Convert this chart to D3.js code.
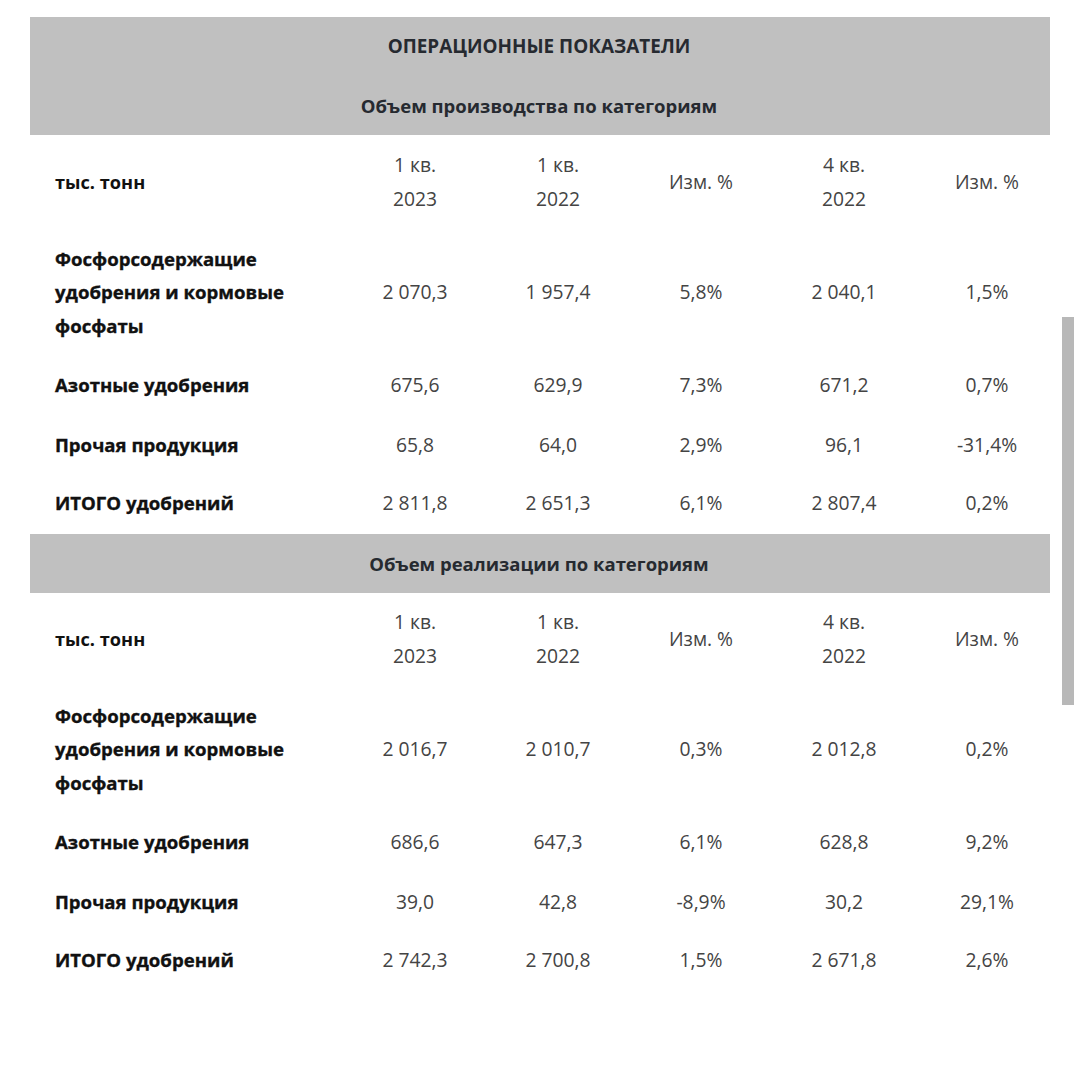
<!DOCTYPE html>
<html><head><meta charset="utf-8">
<script src="https://cdn.jsdelivr.net/npm/d3@7"></script>
<style>html,body{margin:0;padding:0;background:#fff;}svg{display:block;}</style>
</head><body>
<svg id="c" width="1080" height="1080"></svg>
<script>
const title = "ОПЕРАЦИОННЫЕ ПОКАЗАТЕЛИ";
const sectionTitles = ["Объем производства по категориям", "Объем реализации по категориям"];
const unitLabel = "тыс. тонн";
const columnHeaders = [["1 кв.", "2023"], ["1 кв.", "2022"], ["Изм. %"], ["4 кв.", "2022"], ["Изм. %"]];
const rowLabels = [["Фосфорсодержащие", "удобрения и кормовые", "фосфаты"], ["Азотные удобрения"], ["Прочая продукция"], ["ИТОГО удобрений"]];
const productionValues = [
  ["2 070,3", "1 957,4", "5,8%", "2 040,1", "1,5%"],
  ["675,6", "629,9", "7,3%", "671,2", "0,7%"],
  ["65,8", "64,0", "2,9%", "96,1", "-31,4%"],
  ["2 811,8", "2 651,3", "6,1%", "2 807,4", "0,2%"]
];
const salesValues = [
  ["2 016,7", "2 010,7", "0,3%", "2 012,8", "0,2%"],
  ["686,6", "647,3", "6,1%", "628,8", "9,2%"],
  ["39,0", "42,8", "-8,9%", "30,2", "29,1%"],
  ["2 742,3", "2 700,8", "1,5%", "2 671,8", "2,6%"]
];

const svg = d3.select("#c");
const grey = "#c0c0c0";
const font = "'Open Sans', sans-serif";
const x = d3.scalePoint().domain(d3.range(columnHeaders.length)).range([415, 987]);
const labelX = 55;
const lineH = 33.5;
const valSize = 19.3;
const labSize = 18.6;

// scrollbar
svg.append("rect").attr("x", 1062).attr("y", 317).attr("width", 12).attr("height", 388).attr("fill", "#b8b8b8");

function block(top, bandTop, bandH, showTitle, secTitle, values) {
  svg.append("rect").attr("x", 30).attr("y", bandTop).attr("width", 1020).attr("height", bandH).attr("fill", grey);
  if (showTitle) {
    svg.append("text").attr("x", 539).attr("y", bandTop + 36).attr("text-anchor", "middle")
      .attr("font-family", font).attr("font-weight", 700).attr("font-size", 18.9).attr("fill", "#262a30").text(title);
  }
  svg.append("text").attr("x", 539).attr("y", bandTop + bandH - 22).attr("text-anchor", "middle")
    .attr("font-family", font).attr("font-weight", 700).attr("font-size", 18.5).attr("fill", "#262a30").text(secTitle);

  const hY = top;
  svg.append("text").attr("x", labelX).attr("y", hY + 6).attr("font-family", font).attr("font-weight", 700)
    .attr("font-size", 18.2).attr("fill", "#111").text(unitLabel);
  columnHeaders.forEach((h, i) => {
    const t = svg.append("text").attr("x", x(i)).attr("text-anchor", "middle").attr("font-family", font)
      .attr("font-size", valSize).attr("fill", "#444");
    if (h.length === 1) t.attr("y", hY + 6).text(h[0]);
    else {
      t.append("tspan").attr("x", x(i)).attr("y", hY - 11).text(h[0]);
      t.append("tspan").attr("x", x(i)).attr("y", hY + 23).text(h[1]);
    }
  });

  const rowCenters = [top + 110, top + 203, top + 263, top + 321];
  rowLabels.forEach((lab, r) => {
    const cy = rowCenters[r];
    const n = lab.length;
    lab.forEach((l, k) => {
      svg.append("text").attr("x", labelX).attr("y", cy + 6 + (k - (n - 1) / 2) * lineH)
        .attr("font-family", font).attr("font-weight", 700).attr("font-size", labSize)
        .attr("fill", "#111").attr("stroke", "#111").attr("stroke-width", 0.35).text(l);
    });
    values[r].forEach((v, i) => {
      svg.append("text").attr("x", x(i)).attr("y", cy + 6).attr("text-anchor", "middle")
        .attr("font-family", font).attr("font-size", valSize).attr("fill", "#444").text(v);
    });
  });
}

block(183, 17, 118, true, sectionTitles[0], productionValues);
block(640, 534, 59, false, sectionTitles[1], salesValues);
</script>
</body></html>
